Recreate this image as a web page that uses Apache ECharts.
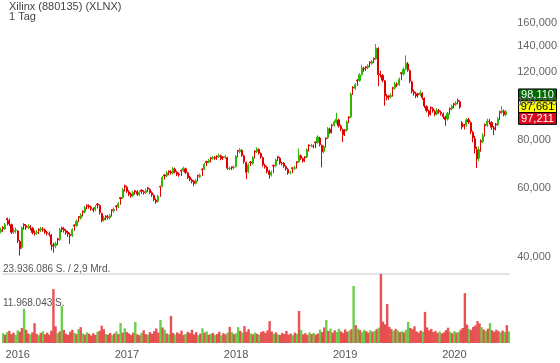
<!DOCTYPE html>
<html><head><meta charset="utf-8">
<script src="https://cdn.jsdelivr.net/npm/echarts@6/dist/echarts.min.js"></script>
<style>html,body{margin:0;padding:0;background:#fff}#c{width:560px;height:363px}</style>
</head><body><div id="c"></div>
<script>
const titleText = 'Xilinx (880135) (XLNX)';
const subtitleText = '1 Tag';
const firstWeek = [2015, 10, 18]; // Wednesday of first weekly bar (UTC y, m0, d)

const opens = [46.5,47.6,47.2,50.2,49.6,48.4,46.5,46.9,46.6,43.8,
 42.3,48.5,48.1,47.7,47.8,47.4,46.1,46.1,47.1,46.9,
 47.1,46.9,46.2,45.9,45.5,42.9,42.7,44.5,44.4,47.5,
 47.2,46.7,46.3,45.7,45.4,48.3,48.1,50.8,50.3,52.4,
 52.2,54.3,54.1,53.7,53.1,52.9,54.7,54.2,51.7,49.8,
 50.9,50.7,50.4,52.9,52.5,54.1,53.9,56.8,56.8,61.0,
 60.4,58.8,58.1,57.5,59.2,58.9,57.9,59.4,58.8,58.6,
 60.2,59.6,58.5,57.6,56.0,55.6,60.7,60.8,65.0,64.8,
 66.4,66.2,65.7,67.3,66.0,65.4,66.8,66.7,67.4,65.8,
 64.2,63.0,62.6,61.9,64.8,64.3,67.3,67.2,70.4,70.2,
 72.0,71.8,72.1,72.7,72.5,72.8,72.4,72.1,72.0,67.5,
 68.2,67.9,68.3,75.1,74.6,75.2,72.8,70.0,66.3,70.2,
 69.7,74.9,74.7,75.6,73.8,72.0,68.8,68.0,66.5,65.0,
 68.8,68.7,72.4,71.8,69.6,69.7,68.3,67.2,65.9,67.8,
 67.6,70.3,70.3,72.8,71.6,72.4,72.3,77.6,77.4,77.2,
 79.0,78.8,80.9,77.4,74.8,80.9,81.0,85.2,87.4,87.3,
 88.8,90.0,86.8,85.0,84.9,84.8,91.7,91.8,109.4,108.6,
 114.1,113.7,117.9,122.2,123.4,122.8,126.9,126.0,129.8,129.3,
 137.5,118.3,117.3,113.5,103.8,103.9,103.4,109.0,108.8,111.3,
 111.0,119.2,118.2,121.8,125.5,120.6,113.0,106.5,105.2,105.2,
 104.7,105.5,102.4,97.5,95.0,97.0,96.3,94.8,93.4,95.2,
 94.2,93.3,91.6,90.5,96.4,96.2,99.1,98.8,101.2,100.3,
 88.5,87.5,87.3,90.2,88.6,83.6,80.6,75.5,71.8,79.6,
 79.3,87.6,87.2,89.3,88.7,86.0,87.9,87.6,94.6,94.2,
 94.8,92.8];

const closes = [47.0,47.3,48.4,49.8,48.6,46.3,46.8,46.9,44.0,42.0,
 47.5,48.2,47.6,47.9,47.5,46.2,46.0,46.2,46.8,47.2,
 47.0,46.3,46.0,45.7,43.0,42.6,43.2,44.2,47.0,47.1,
 46.8,46.2,45.8,45.3,47.0,48.0,49.4,50.5,51.2,52.1,
 53.6,54.0,53.8,53.2,52.8,53.7,54.4,52.0,49.6,50.4,
 50.6,50.5,51.0,52.6,53.0,53.8,54.8,56.5,59.5,60.6,
 59.0,58.0,57.4,58.6,58.8,58.0,58.6,59.0,58.5,59.2,
 59.8,58.6,57.8,56.2,55.4,57.3,60.5,64.0,64.6,65.8,
 66.0,65.8,67.5,66.2,65.3,65.0,66.5,67.6,66.0,64.0,
 63.2,62.5,61.8,62.8,64.5,64.8,67.0,69.2,70.0,70.8,
 71.6,72.0,71.8,72.3,73.0,71.6,72.0,72.4,67.7,67.6,
 67.8,68.0,72.5,74.8,75.4,73.0,70.3,66.0,69.0,69.8,
 72.0,74.5,75.8,74.0,72.3,69.0,68.2,66.3,65.2,66.0,
 68.5,71.0,72.0,69.8,69.5,68.5,67.4,65.8,66.0,67.5,
 67.8,70.0,73.0,71.8,70.6,72.0,75.5,77.2,77.4,77.0,
 78.6,81.4,77.8,74.5,76.8,80.5,85.5,83.6,87.0,89.0,
 90.5,87.0,85.4,82.5,84.5,89.0,91.2,105.0,108.8,111.0,
 113.5,117.6,122.5,121.8,122.6,124.0,126.2,127.2,129.0,138.0,
 118.0,117.6,114.0,104.0,102.8,103.2,104.0,108.5,111.5,110.8,
 114.5,118.5,121.5,126.0,121.0,113.5,106.8,105.5,103.8,104.5,
 105.8,102.8,97.8,95.3,93.0,96.5,95.0,93.2,95.4,94.5,
 93.5,91.8,90.2,93.5,96.0,97.6,98.6,99.5,100.5,97.2,
 86.4,87.0,90.0,89.0,84.0,81.0,76.0,71.5,75.5,79.0,
 82.0,87.0,89.5,89.0,86.3,85.2,87.4,90.5,94.0,95.0,
 93.0,94.5];

const highs = [47.6,48.0,48.9,50.5,50.2,48.7,47.5,47.6,46.9,44.2,
 47.9,48.8,48.6,48.5,48.3,47.7,46.8,46.9,47.4,47.8,
 47.7,47.3,46.7,46.5,45.8,43.5,43.8,44.8,47.5,47.8,
 47.7,47.2,46.7,46.2,47.4,48.5,49.9,51.0,51.8,52.7,
 54.1,54.6,54.6,54.2,53.6,54.3,55.0,54.6,52.0,51.0,
 51.2,51.3,51.6,53.1,53.6,54.4,55.4,57.0,60.1,61.4,
 61.0,59.4,58.6,59.2,59.5,59.4,59.2,59.7,59.4,59.9,
 60.6,60.1,59.0,58.0,56.6,57.8,61.0,64.6,65.3,66.5,
 66.8,66.9,68.1,67.9,66.6,66.0,67.1,68.3,67.9,66.2,
 64.7,63.6,63.1,63.4,65.1,65.5,67.6,69.8,70.7,71.5,
 72.3,72.8,72.7,73.0,73.8,73.3,72.7,73.2,72.4,68.3,
 68.5,68.8,73.1,75.4,76.2,75.7,73.3,70.4,69.6,70.6,
 72.7,75.2,76.6,76.1,74.3,72.5,69.5,68.6,67.0,66.7,
 69.1,71.6,72.8,72.3,70.3,70.2,68.9,67.7,66.7,68.1,
 68.5,70.6,76.0,73.4,72.1,72.7,76.1,77.9,78.2,77.9,
 79.3,82.2,81.5,77.9,77.6,81.2,86.3,86.0,87.8,89.9,
 94.0,90.8,87.6,85.6,85.3,89.8,92.1,106.0,109.9,112.1,
 114.6,118.8,125.0,123.4,124.0,125.3,127.5,128.6,130.4,141.2,
 138.6,120.5,118.2,114.2,105.0,104.5,105.4,109.6,112.8,112.5,
 115.8,119.8,122.9,132.0,127.0,121.4,113.7,107.8,106.4,105.8,
 107.3,106.2,103.0,98.3,95.8,97.6,97.2,95.6,96.5,96.2,
 95.2,94.1,92.3,94.4,96.9,98.6,99.6,100.6,102.2,101.2,
 89.4,88.0,91.0,91.2,89.3,84.5,82.0,76.8,77.0,80.3,
 83.3,88.2,90.7,90.6,89.4,86.9,88.5,91.6,95.2,97.7,
 95.8,95.6];

const lows = [46.0,46.4,46.9,48.2,48.0,45.8,45.9,46.0,43.4,40.3,
 41.9,47.0,46.9,47.1,46.8,45.7,45.4,45.6,45.8,46.3,
 46.4,45.8,45.4,45.1,41.6,41.0,42.1,42.9,44.0,46.3,
 46.2,45.6,45.0,43.2,45.0,46.7,47.8,49.1,49.9,50.8,
 51.8,53.0,53.2,52.6,52.1,52.4,53.3,51.4,49.1,49.3,
 49.7,49.9,49.9,50.8,52.0,52.6,53.4,54.5,56.4,58.9,
 58.4,57.3,56.8,57.0,57.9,57.4,57.3,58.1,57.8,58.0,
 58.8,58.0,57.1,55.6,54.8,55.2,57.1,60.4,63.2,64.2,
 64.9,65.1,65.2,65.6,64.6,64.3,64.6,66.1,65.4,63.4,
 62.6,61.8,60.8,61.4,62.6,63.8,64.6,66.8,68.5,69.6,
 70.0,71.2,71.1,71.1,71.9,70.9,71.0,71.5,67.0,66.8,
 66.9,67.2,67.9,72.1,73.9,72.3,69.5,63.4,65.7,68.5,
 69.1,71.7,74.0,73.3,71.6,68.3,67.5,65.6,63.6,64.4,
 65.7,68.2,70.6,69.1,68.8,67.8,66.7,65.1,65.2,65.7,
 66.9,67.5,69.8,71.1,69.9,70.2,71.8,74.7,76.6,76.1,
 76.2,78.2,77.0,68.0,73.9,76.4,80.4,82.8,83.1,86.5,
 88.0,86.1,84.3,79.0,81.9,84.1,88.4,91.0,104.5,107.6,
 110.2,112.8,117.0,119.8,120.5,121.7,123.2,124.9,126.3,128.6,
 110.0,115.8,112.6,98.0,101.2,101.4,102.3,103.4,107.7,109.4,
 110.2,113.9,117.2,120.8,119.8,112.0,105.3,104.0,102.5,102.8,
 103.6,101.5,96.6,94.2,91.8,92.5,94.0,92.1,92.6,93.4,
 92.4,90.6,87.0,89.7,93.0,95.3,96.5,97.8,98.8,96.1,
 85.2,85.1,86.5,87.9,82.8,78.9,73.8,67.7,70.6,74.6,
 78.4,81.6,86.3,87.6,84.9,82.3,84.6,86.8,90.0,93.2,
 92.0,92.1];

// weekly volume peaks, million shares
const volumes = [3.4,2.9,3.8,4.2,3.1,3.6,2.8,4.4,3.9,5.2,
 11.9,4.6,3.3,3.0,3.7,6.9,3.2,2.7,3.5,4.1,
 3.0,3.6,2.9,4.3,18.7,5.8,3.4,4.0,12.8,4.5,
 3.2,2.8,3.9,4.6,3.5,3.1,4.8,5.5,3.3,2.9,
 3.7,3.2,2.6,3.4,2.8,3.9,4.2,6.0,4.8,3.1,
 2.9,3.5,2.7,3.3,4.0,3.1,6.9,3.6,5.1,3.8,
 3.3,2.8,3.6,7.3,3.0,2.7,3.5,4.4,3.1,2.9,
 3.8,3.2,4.1,5.0,3.6,8.0,5.4,4.6,3.3,3.0,
 9.4,3.5,2.9,3.7,3.2,4.3,2.8,3.1,3.9,3.4,
 4.6,3.0,3.8,2.7,3.3,5.1,3.6,4.0,2.9,3.2,
 3.5,2.8,3.1,3.9,2.7,3.4,3.0,3.6,5.6,3.8,
 3.1,3.4,5.5,4.2,3.6,5.9,3.9,4.8,3.3,3.0,
 3.6,3.2,2.9,3.8,4.1,3.5,4.4,7.6,4.0,3.2,
 3.7,3.0,2.8,3.5,3.1,4.2,2.9,3.3,2.7,3.6,
 3.2,11.1,4.5,3.0,3.4,2.8,3.7,3.1,3.5,2.9,
 3.3,4.6,3.8,5.4,8.0,4.2,5.0,3.6,4.4,3.8,
 4.9,4.0,3.5,4.7,3.9,4.3,4.8,19.8,6.2,5.0,
 4.5,3.8,4.6,4.1,3.6,4.4,3.9,4.2,4.8,5.3,
 23.9,7.4,6.5,13.5,5.6,4.8,4.2,4.9,4.4,3.8,
 4.1,3.7,4.6,7.3,5.2,4.8,5.8,4.0,3.6,4.3,
 3.9,10.8,5.4,4.4,4.9,3.8,4.2,3.5,4.0,3.3,
 3.7,4.5,5.3,3.9,3.4,4.1,3.6,3.8,4.6,5.2,
 17.3,6.4,4.9,4.5,5.6,6.1,7.6,6.8,5.5,4.7,
 4.2,5.0,6.9,4.4,3.9,4.6,4.1,3.7,4.3,3.8,
 6.2,4.0];

const priceTicks = [40, 60, 80, 100, 120, 140, 160];
const volTicks = [11.968043, 23.936086];
const volTickLabels = ['11.968.043 S.', '23.936.086 S. / 2,9 Mrd.'];
const quoteValues = [98.110, 97.661, 97.211];
const quoteLabels = ['98,110', '97,661', '97,211'];

// weekly categories (Wednesday of each week)
const categories = [];
(function () {
  const d = new Date(Date.UTC(firstWeek[0], firstWeek[1], firstWeek[2]));
  for (let i = 0; i < closes.length; i++) {
    categories.push(d.toISOString().slice(0, 10));
    d.setUTCDate(d.getUTCDate() + 7);
  }
})();
const yearStarts = new Set();
categories.forEach((c, i) => { if (i > 0 && c.slice(0, 4) !== categories[i - 1].slice(0, 4)) yearStarts.add(i); });

const candleData = closes.map((c, i) => [opens[i], c, lows[i], highs[i]]);
const UP = '#2fb800', DOWN = '#de0000';
const FONT = 'Liberation Sans, Arial, sans-serif';

const chart = echarts.init(document.getElementById('c'), null, { renderer: 'canvas' });
chart.setOption({
  animation: false,
  backgroundColor: '#ffffff',
  textStyle: { fontFamily: FONT },
  title: [
    { text: titleText, left: 4, top: -4, textStyle: { fontSize: 11, fontWeight: 'normal', color: '#444', fontFamily: FONT } },
    { text: subtitleText, left: 4, top: 6, textStyle: { fontSize: 11, fontWeight: 'normal', color: '#444', fontFamily: FONT } }
  ],
  grid: [
    { left: 0, width: 510, top: 5, height: 265 },
    { left: 0, width: 510, top: 274, height: 69 }
  ],
  xAxis: [
    { type: 'category', gridIndex: 0, data: categories, boundaryGap: true, show: false },
    { type: 'category', gridIndex: 1, data: categories, boundaryGap: true,
      axisLine: { show: false }, axisTick: { show: false }, splitLine: { show: false },
      axisLabel: { interval: (i) => yearStarts.has(i), formatter: v => v.slice(0, 4),
        color: '#555', fontSize: 11, margin: 6, fontFamily: FONT } }
  ],
  yAxis: [
    { type: 'log', gridIndex: 0, position: 'right', min: 37, max: 178,
      axisLine: { show: false }, axisTick: { show: false, customValues: priceTicks }, splitLine: { show: false },
      axisLabel: { customValues: priceTicks, formatter: v => Number(v).toFixed(3).replace('.', ','),
        color: '#666', fontSize: 11, margin: 10, fontFamily: FONT } },
    { type: 'value', gridIndex: 1, position: 'left', min: 0, max: volTicks[1],
      axisLine: { show: false }, axisTick: { show: false, customValues: volTicks },
      splitLine: { show: true, showMinLine: false, lineStyle: { color: '#e4e4e4', width: 2 } },
      axisLabel: { inside: true, customValues: volTicks, margin: 1, verticalAlign: 'bottom',
        formatter: v => { const k = volTicks.findIndex(t => Math.abs(t - v) < 1e-6); return k >= 0 ? volTickLabels[k] : ''; },
        color: '#555', fontSize: 10, fontFamily: FONT } }
  ],
  series: [
    { type: 'candlestick', xAxisIndex: 0, yAxisIndex: 0, data: candleData, barWidth: 1.6,
      itemStyle: { color: UP, color0: DOWN, borderColor: UP, borderColor0: DOWN, borderWidth: 1 } },
    { type: 'bar', xAxisIndex: 1, yAxisIndex: 1, data: volumes, barWidth: 2.4,
      itemStyle: { color: p => closes[p.dataIndex] >= opens[p.dataIndex] ? 'rgba(70,195,30,0.8)' : 'rgba(225,40,40,0.8)' } }
  ]
});

const midY = chart.convertToPixel({ yAxisIndex: 0 }, quoteValues[1]);
const boxFill = ['#006b00', '#ffff00', '#dd0a1e'];
const boxText = ['#ffffff', '#000000', '#ffffff'];
const graphics = quoteLabels.map((t, k) => ({
  type: 'group', left: 518, top: midY - 6 + (k - 1) * 11.8, z: 100,
  children: [
    { type: 'rect', shape: { x: 0, y: 0, width: 38, height: 11.8 },
      style: { fill: boxFill[k], stroke: '#000', lineWidth: 1 } },
    { type: 'text', x: 19, y: 6.2, style: { text: t, fill: boxText[k], font: '11px ' + FONT, align: 'center', verticalAlign: 'middle' } }
  ]
}));
chart.setOption({ graphic: graphics });
</script></body></html>
